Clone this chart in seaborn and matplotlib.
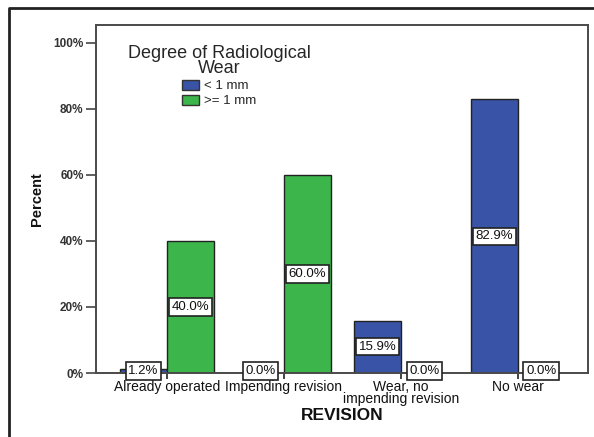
import matplotlib
matplotlib.use("Agg")
import matplotlib.pyplot as plt
import seaborn as sns
import pandas as pd
from matplotlib.lines import Line2D

# Percent of cases within each revision status, split by degree of radiological wear
categories = ["Already operated", "Impending revision", "Wear, no\nimpending revision", "No wear"]
wear_groups = ["< 1 mm", ">= 1 mm"]
pct_under_1mm = [1.2, 0.0, 15.9, 82.9]
pct_over_1mm = [40.0, 60.0, 0.0, 0.0]
y_ticks = [0, 20, 40, 60, 80, 100]
y_tick_labels = ["0%", "20%", "40%", "60%", "80%", "100%"]

df = pd.DataFrame({
    "REVISION": categories * 2,
    "Wear": [wear_groups[0]] * 4 + [wear_groups[1]] * 4,
    "Percent": pct_under_1mm + pct_over_1mm,
})

sns.set_theme(style="white")
plt.rcParams["font.family"] = ["Liberation Sans", "DejaVu Sans"]

fig = plt.figure(figsize=(5.94, 4.37), dpi=100)
fig.patch.set_facecolor("white")
ax = fig.add_axes([96 / 594, 1 - 373 / 437, 492 / 594, 348 / 437])

blue = "#3953A6"
green = "#3CB54A"
sns.barplot(data=df, x="REVISION", y="Percent", hue="Wear", hue_order=wear_groups,
            order=categories, palette=[blue, green], width=0.8, saturation=1,
            edgecolor="#222222", linewidth=1.0, errorbar=None, ax=ax, legend=True)

ax.set_xlim(-0.607, 3.6)
ax.set_ylim(0, 105.45)
ax.set_yticks(y_ticks)
ax.set_yticklabels(y_tick_labels, fontsize=8.5, fontweight="bold", color="#333333")
ax.tick_params(axis="y", direction="out", length=7, width=1.2, color="#444444", pad=2, left=True)
ax.tick_params(axis="x", direction="out", length=4, width=1.2, color="#222222", pad=1,
               bottom=True, labelsize=10, labelcolor="#111111")
for lab in ax.get_xticklabels():
    lab.set_multialignment("center")
    lab.set_linespacing(0.85)

for sp in ax.spines.values():
    sp.set_color("#4a4a4a")
    sp.set_linewidth(1.4)
    sp.set_visible(True)

ax.set_ylabel("Percent", fontsize=10.5, fontweight="bold", labelpad=7, color="#111111")
ax.set_xlabel("REVISION", fontsize=12.5, fontweight="bold", labelpad=1, color="#111111")

# Value labels centred on each bar
for container, vals in zip(ax.containers, [pct_under_1mm, pct_over_1mm]):
    for bar, v in zip(container, vals):
        x = bar.get_x() + bar.get_width() / 2
        y = v / 2 if v > 0 else 0.6
        ax.text(x, y, f"{v:.1f}%", ha="center", va="center", fontsize=9.5, color="#111111",
                bbox=dict(boxstyle="square,pad=0.2", facecolor="white", edgecolor="#222222",
                          linewidth=1.2))

leg = ax.legend(title="Degree of Radiological\nWear", loc="upper center",
                bbox_to_anchor=(0.25, 0.962), frameon=False, fontsize=9.5,
                title_fontsize=13, handlelength=1.3, handleheight=0.8,
                handletextpad=0.35, labelspacing=0.2, borderpad=0)
title = leg.get_title()
title.set_multialignment("center")
title.set_linespacing(0.85)
for h in leg.legend_handles:
    h.set_edgecolor("#333333")

# Outer frame around the figure
fig.add_artist(Line2D([9 / 594, 9 / 594, 1.0], [0.0, 1 - 8 / 437, 1 - 8 / 437],
                      transform=fig.transFigure, color="#222222", linewidth=2.0))

fig.savefig("out.png", dpi=100, facecolor="white")
